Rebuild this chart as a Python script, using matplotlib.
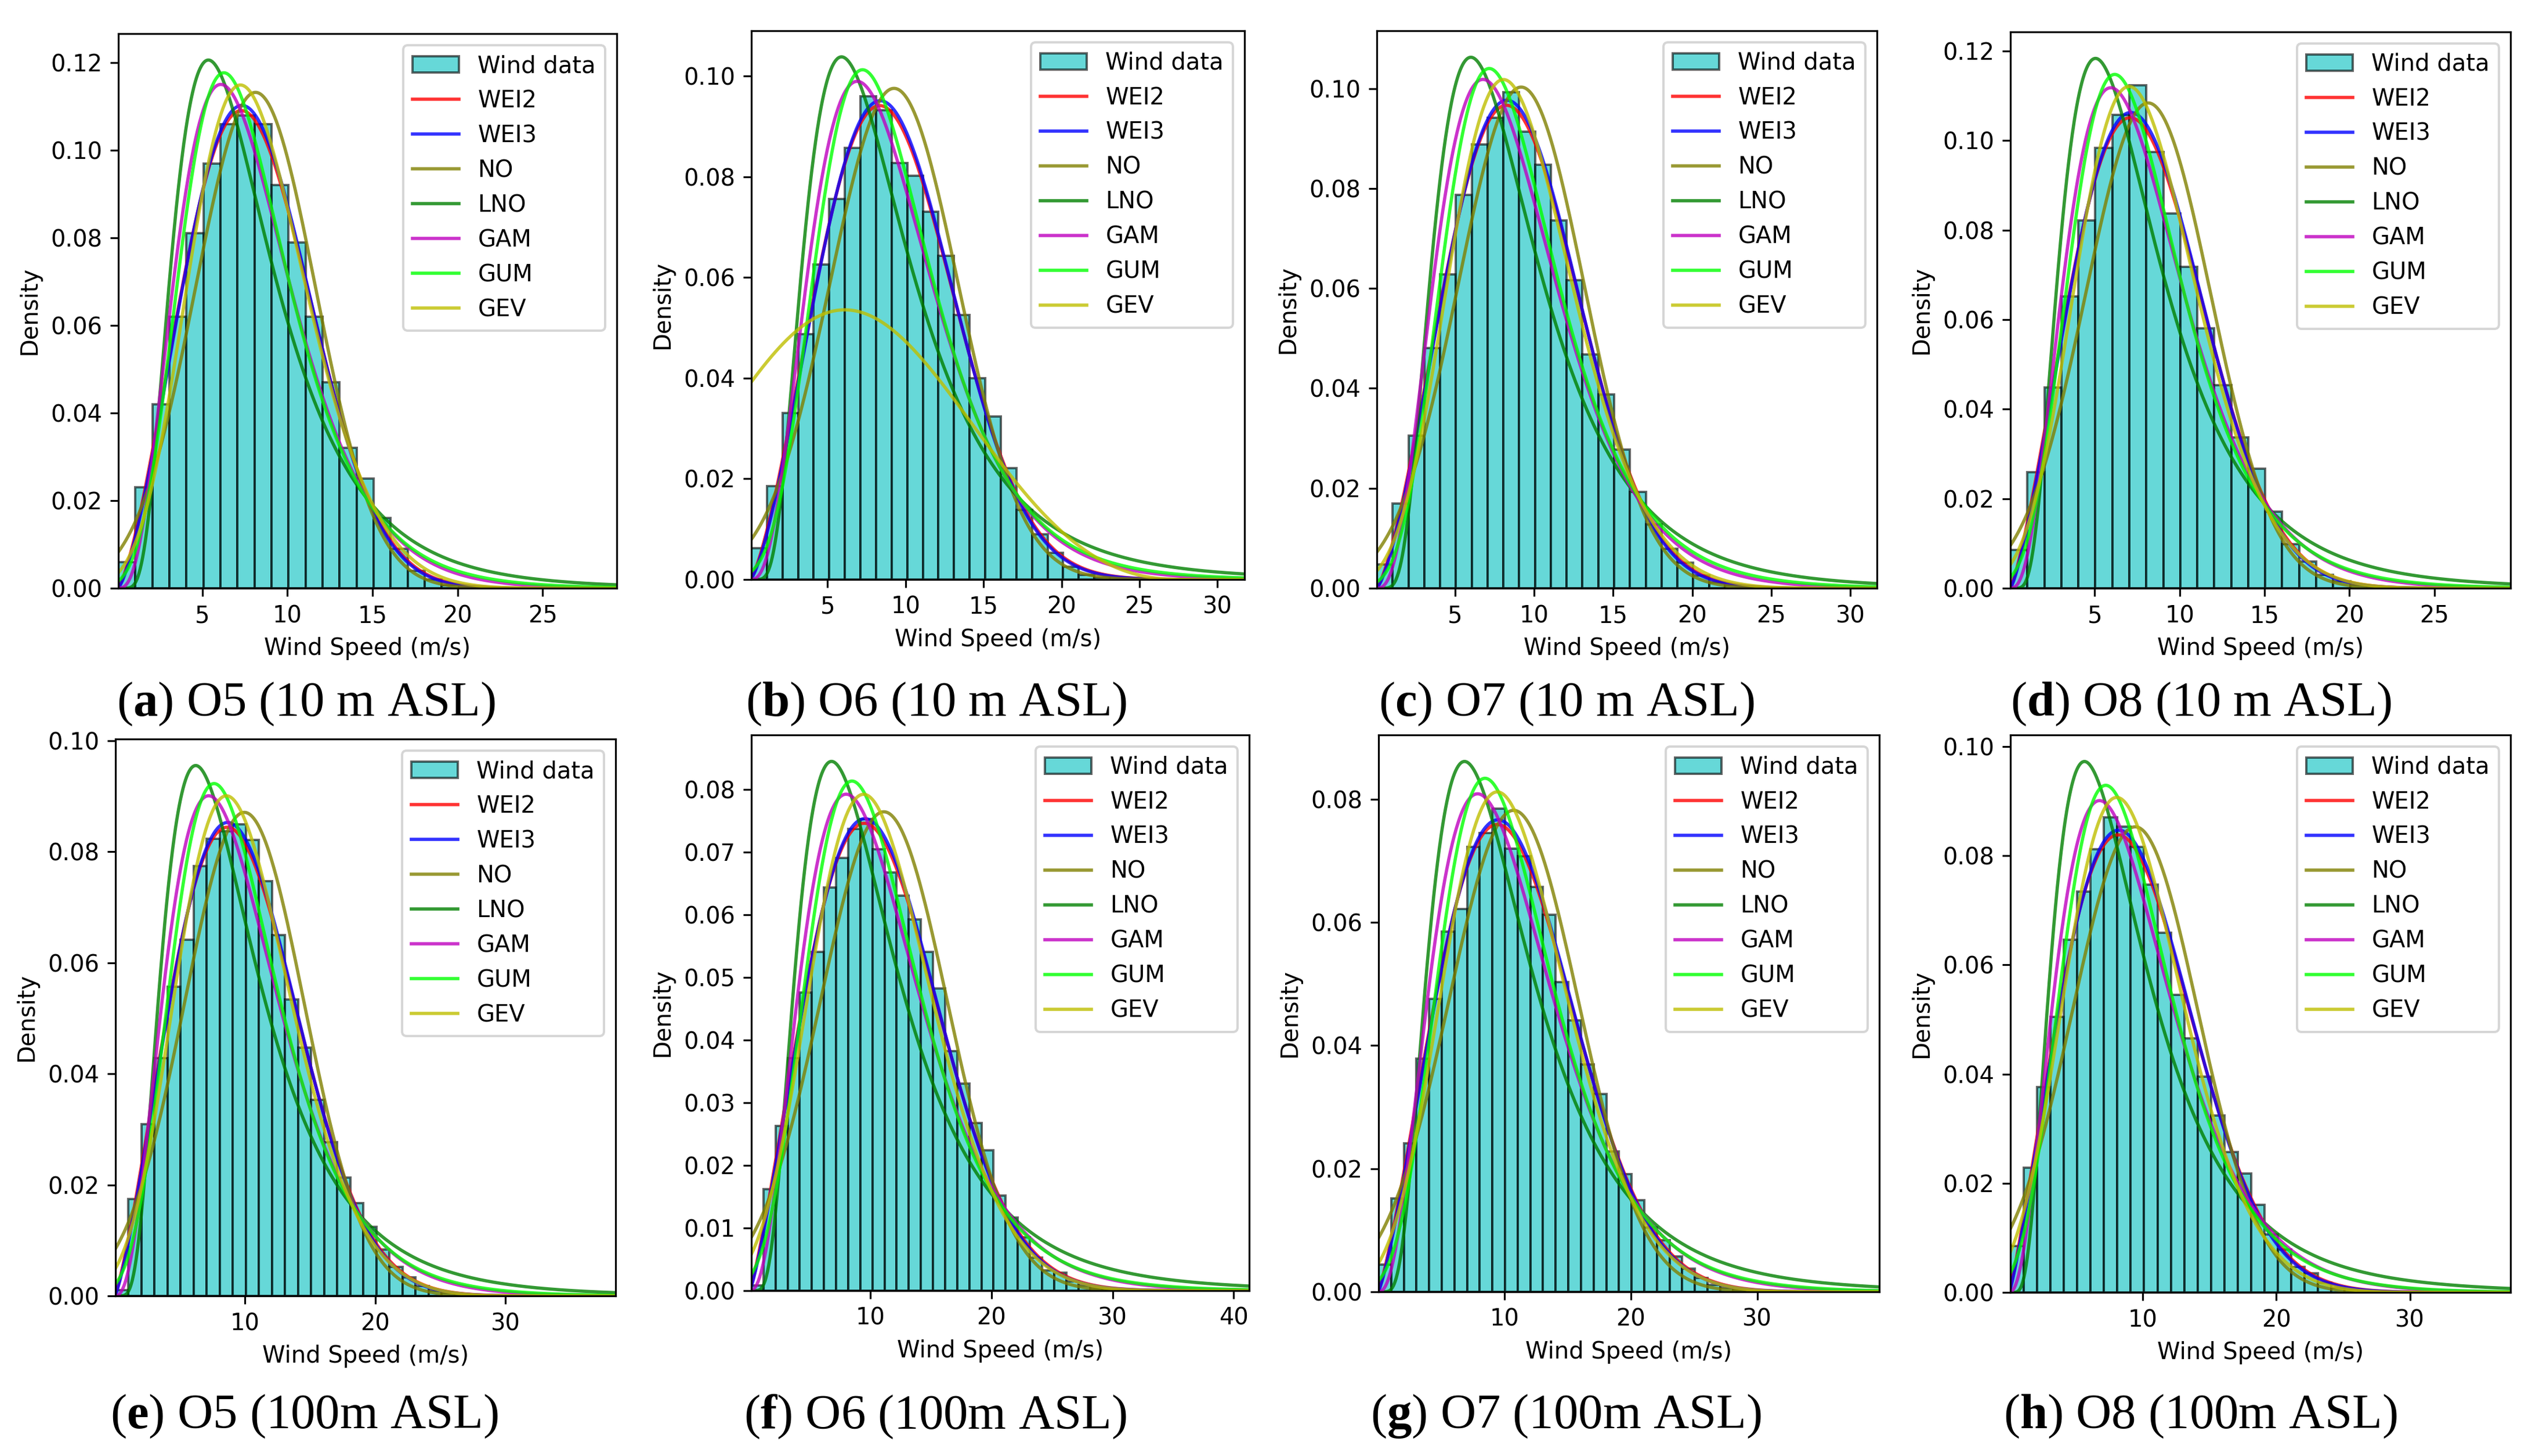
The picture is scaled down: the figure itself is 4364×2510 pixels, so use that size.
import numpy as np
import matplotlib
matplotlib.use('Agg')
import matplotlib.pyplot as plt
from matplotlib.ticker import MultipleLocator, FormatStrFormatter
from math import gamma as gamma_fn

# ---------------- data ----------------
captions = [r'($\mathbf{a}$) O5 (10 m ASL)', r'($\mathbf{b}$) O6 (10 m ASL)',
            r'($\mathbf{c}$) O7 (10 m ASL)', r'($\mathbf{d}$) O8 (10 m ASL)',
            r'($\mathbf{e}$) O5 (100m ASL)', r'($\mathbf{f}$) O6 (100m ASL)',
            r'($\mathbf{g}$) O7 (100m ASL)', r'($\mathbf{h}$) O8 (100m ASL)']

speed_min = [0.07, 0.11, 0.065, 0.04, 0.09, 0.17, 0.065, 0.12]
speed_max = [29.35, 31.74, 31.68, 29.48, 38.43, 41.28, 39.64, 37.52]
bin_width = 1.0

# histogram densities (1 m/s bins starting at speed_min)
hist_a = [0.006, 0.023, 0.042, 0.062, 0.081, 0.097, 0.106, 0.108, 0.106, 0.092, 0.079,
          0.062, 0.047, 0.032, 0.025, 0.016, 0.009, 0.004, 0.002, 0.0006, 0.0003, 0.0001]
hist_b = [0.0062, 0.0185, 0.0331, 0.0487, 0.0626, 0.0756, 0.0857, 0.0960, 0.0933, 0.0828,
          0.0802, 0.0731, 0.0643, 0.0526, 0.0400, 0.0324, 0.0221, 0.0138, 0.0090, 0.0053,
          0.0025, 0.0009, 0.0004, 0.0002]
hist_c = [0.0048, 0.0170, 0.0305, 0.0481, 0.0628, 0.0787, 0.0888, 0.0942, 0.0992, 0.0914,
          0.0847, 0.0736, 0.0616, 0.0468, 0.0388, 0.0277, 0.0193, 0.0128, 0.0079, 0.0051,
          0.0026, 0.0012, 0.0006, 0.0002]
hist_d = [0.0085, 0.0259, 0.0449, 0.0652, 0.0822, 0.0984, 0.1057, 0.1123, 0.0974, 0.0837,
          0.0718, 0.0580, 0.0454, 0.0337, 0.0267, 0.0171, 0.0099, 0.0059, 0.0030, 0.0016,
          0.0007, 0.0003]
hist_e = [0.0010, 0.0175, 0.0309, 0.0428, 0.0557, 0.0642, 0.0774, 0.0823, 0.0837, 0.0850,
          0.0821, 0.0747, 0.0650, 0.0534, 0.0447, 0.0353, 0.0277, 0.0213, 0.0167, 0.0124,
          0.0084, 0.0052, 0.0033, 0.0018, 0.0009, 0.0005, 0.0002]
hist_f = [0.0008, 0.0162, 0.0263, 0.0371, 0.0476, 0.0540, 0.0643, 0.0690, 0.0737, 0.0752,
          0.0704, 0.0667, 0.0630, 0.0592, 0.0540, 0.0482, 0.0382, 0.0330, 0.0267, 0.0224,
          0.0152, 0.0117, 0.0085, 0.0053, 0.0032, 0.0029, 0.0015, 0.0008, 0.0004, 0.0002]
hist_g = [0.0044, 0.0152, 0.0241, 0.0379, 0.0476, 0.0585, 0.0622, 0.0723, 0.0745, 0.0785,
          0.0720, 0.0707, 0.0658, 0.0612, 0.0503, 0.0441, 0.0369, 0.0321, 0.0228, 0.0191,
          0.0149, 0.0105, 0.0084, 0.0057, 0.0038, 0.0023, 0.0011, 0.0007, 0.0004]
hist_h = [0.0085, 0.0229, 0.0376, 0.0505, 0.0646, 0.0734, 0.0812, 0.0870, 0.0853, 0.0816,
          0.0747, 0.0659, 0.0545, 0.0465, 0.0395, 0.0324, 0.0257, 0.0218, 0.0160, 0.0106,
          0.0079, 0.0047, 0.0035, 0.0018, 0.0009, 0.0005, 0.0003]
hists = [hist_a, hist_b, hist_c, hist_d, hist_e, hist_f, hist_g, hist_h]

# fitted distribution parameters, one value per panel
wei2_k = [2.435, 2.41, 2.44, 2.315, 2.28, 2.228, 2.25, 2.175]
wei2_c = [9.07, 10.42, 10.25, 9.05, 11.14, 12.40, 12.27, 10.84]
wei3_k = [2.455, 2.43, 2.46, 2.335, 2.30, 2.248, 2.27, 2.195]
wei3_c = [9.03, 10.38, 10.21, 9.01, 11.10, 12.36, 12.23, 10.80]
wei3_loc = [0.03, 0.03, 0.03, 0.03, 0.03, 0.03, 0.03, 0.03]
no_mu = [8.13, 9.26, 9.19, 8.15, 9.97, 11.11, 10.74, 9.45]
no_sd = [3.524, 4.088, 3.978, 3.680, 4.580, 5.222, 5.102, 4.677]
lno_s = [0.535, 0.558, 0.540, 0.568, 0.569, 0.586, 0.573, 0.604]
lno_mu = [1.965, 2.085, 2.085, 1.942, 2.155, 2.259, 2.254, 2.098]
gam_a = [4.24, 4.09, 4.15, 3.94, 3.83, 3.68, 3.72, 3.51]
gam_theta = [1.878, 2.232, 2.150, 2.023, 2.556, 2.983, 2.901, 2.704]
gum_mu = [6.27, 7.24, 7.17, 6.18, 7.65, 8.48, 8.48, 7.25]
gum_beta = [3.126, 3.632, 3.537, 3.205, 3.986, 4.525, 4.411, 3.960]
gev_c = [0.15, 0.30, 0.15, 0.15, 0.15, 0.15, 0.15, 0.15]
gev_loc = [6.72, 3.66, 7.48, 6.49, 7.93, 8.68, 8.71, 7.41]
gev_scale = [3.240, 7.22, 3.657, 3.321, 4.132, 4.701, 4.585, 4.105]

x_step = [5, 5, 5, 5, 10, 10, 10, 10]
y_step = [0.02, 0.02, 0.02, 0.02, 0.02, 0.01, 0.02, 0.02]

# axes boxes in pixels (left, top, right, bottom) and caption anchors
boxes = [(204, 58, 1063, 1014), (1295, 53, 2145, 999), (2373, 53, 3235, 1014),
         (3465, 55, 4327, 1014), (199, 1274, 1061, 2234), (1295, 1267, 2153, 2225),
         (2376, 1267, 3239, 2227), (3465, 1267, 4327, 2228)]
cap_x = [201, 1285, 2376, 3465, 190, 1282, 2362, 3453]
cap_y = [1214, 1214, 1214, 1214, 2442, 2442, 2442, 2442]


# ---------------- pdfs ----------------
def weibull_pdf(x, k, c, loc=0.0):
    z = np.clip((x - loc) / c, 0, None)
    return (k / c) * z**(k - 1) * np.exp(-z**k)

def normal_pdf(x, mu, sd):
    return np.exp(-0.5 * ((x - mu) / sd)**2) / (sd * np.sqrt(2 * np.pi))

def lognorm_pdf(x, s, mu):
    return np.exp(-(np.log(x) - mu)**2 / (2 * s**2)) / (x * s * np.sqrt(2 * np.pi))

def gamma_pdf(x, a, theta):
    return x**(a - 1) * np.exp(-x / theta) / (gamma_fn(a) * theta**a)

def gumbel_pdf(x, mu, beta):
    z = (x - mu) / beta
    return np.exp(-(z + np.exp(-z))) / beta

def gev_pdf(x, c, loc, scale):
    y = 1 - c * (x - loc) / scale
    y = np.clip(y, 1e-12, None)
    return np.exp(-y**(1 / c)) * y**(1 / c - 1) / scale


W, H = 4364, 2510
S = 2.88
plt.rcParams.update({
    'font.size': 10 * S,
    'axes.linewidth': 0.8 * S,
    'xtick.major.size': 3.5 * S, 'ytick.major.size': 3.5 * S,
    'xtick.major.width': 0.8 * S, 'ytick.major.width': 0.8 * S,
    'xtick.major.pad': 3.5 * S, 'ytick.major.pad': 3.5 * S,
    'axes.labelpad': 4 * S,
    'patch.linewidth': 1.0 * S,
    'lines.linewidth': 1.4 * S,
    'mathtext.fontset': 'custom',
    'mathtext.rm': 'Liberation Serif',
    'mathtext.bf': 'Liberation Serif:bold',
})

fig = plt.figure(figsize=(W / 100, H / 100), dpi=100)

for i in range(8):
    x0, y0, x1, y1 = boxes[i]
    ax = fig.add_axes([x0 / W, 1 - y1 / H, (x1 - x0) / W, (y1 - y0) / H])

    heights = hists[i]
    edges = speed_min[i] + bin_width * np.arange(len(heights))
    bars = ax.bar(edges, heights, width=bin_width, align='edge', color='c', alpha=0.6,
                  edgecolor='k', label='Wind data')

    x = np.linspace(speed_min[i], speed_max[i], 800)
    ax.plot(x, weibull_pdf(x, wei2_k[i], wei2_c[i]), color='red', alpha=0.8, label='WEI2')
    ax.plot(x, weibull_pdf(x, wei3_k[i], wei3_c[i], wei3_loc[i]), color='blue', alpha=0.8, label='WEI3')
    ax.plot(x, normal_pdf(x, no_mu[i], no_sd[i]), color='olive', alpha=0.8, label='NO')
    ax.plot(x, lognorm_pdf(x, lno_s[i], lno_mu[i]), color='green', alpha=0.8, label='LNO')
    ax.plot(x, gamma_pdf(x, gam_a[i], gam_theta[i]), color='m', alpha=0.8, label='GAM')
    ax.plot(x, gumbel_pdf(x, gum_mu[i], gum_beta[i]), color='lime', alpha=0.8, label='GUM')
    ax.plot(x, gev_pdf(x, gev_c[i], gev_loc[i], gev_scale[i]), color='y', alpha=0.8, label='GEV')

    ax.set_xlim(speed_min[i], speed_max[i])
    ax.xaxis.set_major_locator(MultipleLocator(x_step[i]))
    ax.yaxis.set_major_locator(MultipleLocator(y_step[i]))
    ax.yaxis.set_major_formatter(FormatStrFormatter('%.2f'))
    ax.set_xlabel('Wind Speed (m/s)')
    ax.set_ylabel('Density')

    handles, labels = ax.get_legend_handles_labels()
    order = [labels.index('Wind data')] + [j for j, l in enumerate(labels) if l != 'Wind data']
    ax.legend([handles[j] for j in order], [labels[j] for j in order], loc='upper right')

    fig.text(cap_x[i] / W, 1 - cap_y[i] / H, captions[i], family='Liberation Serif',
             fontsize=61, ha='left', va='center')

fig.savefig('out.png', dpi=100)
